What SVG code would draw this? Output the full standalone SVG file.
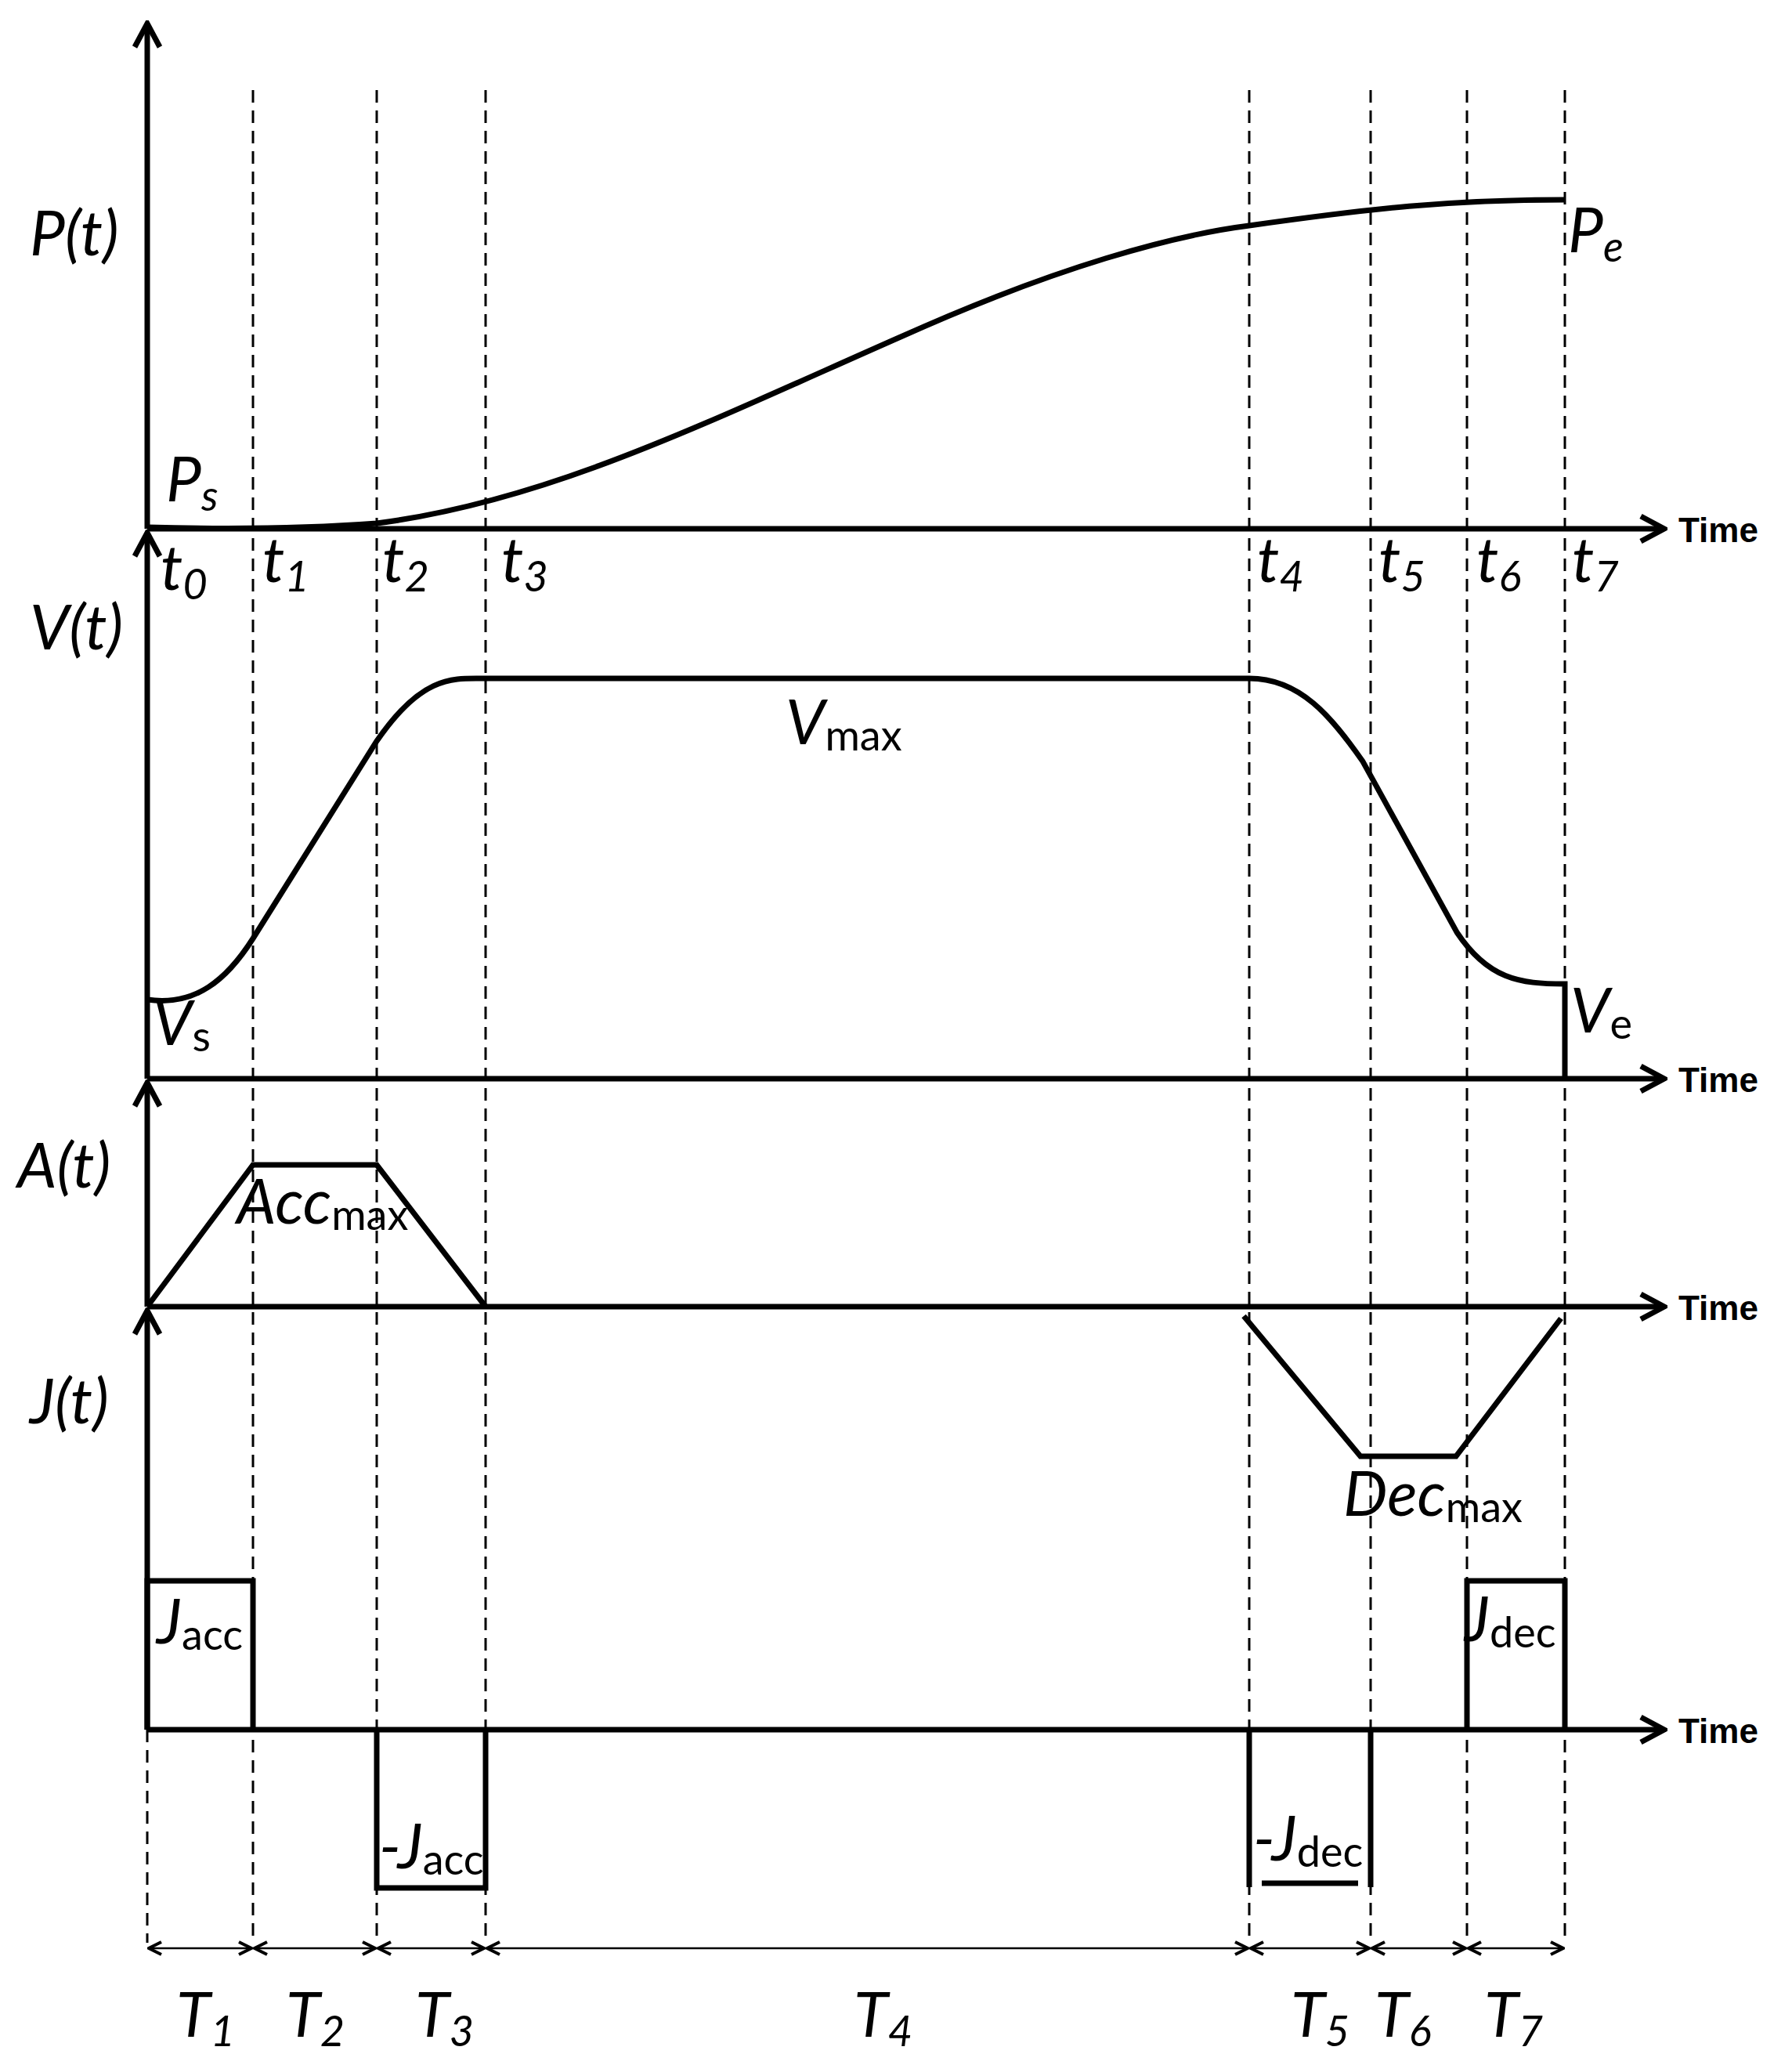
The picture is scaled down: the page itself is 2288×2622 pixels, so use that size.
<svg xmlns="http://www.w3.org/2000/svg" width="2288" height="2622" viewBox="0 0 2288 2622">
<defs>
<marker id="ah" viewBox="0 0 20 20" refX="18" refY="10" markerWidth="20" markerHeight="20" markerUnits="userSpaceOnUse" orient="auto-start-reverse"><path d="M2,2 L18,10 L2,18" fill="none" stroke="#000" stroke-width="4"/></marker>
<marker id="big" viewBox="0 0 40 40" refX="36" refY="20" markerWidth="40" markerHeight="40" markerUnits="userSpaceOnUse" orient="auto"><path d="M6,4 L36,20 L6,36" fill="none" stroke="#000" stroke-width="7"/></marker>
</defs>
<style>
.ax{stroke:#000;stroke-width:7;fill:none}
.cv{stroke:#000;stroke-width:7;fill:none}
.ds{stroke:#000;stroke-width:3;stroke-dasharray:16,10;fill:none}
.dim{stroke:#000;stroke-width:2.5;fill:none}
.lb{font-family:Lato,"Open Sans",sans-serif;font-style:italic;font-size:80px;fill:#000}
.up{font-family:Lato,"Open Sans",sans-serif;font-style:normal;font-size:54px;fill:#000}
.sb{font-size:54px}
.tm{font-family:"Liberation Sans",Arial,sans-serif;font-weight:bold;font-size:44px;fill:#000}
</style>
<rect width="2288" height="2622" fill="#fff"/>
<g id="connectors">
<g id="dashes">
<line class="ds" x1="188" y1="2208" x2="188" y2="2480"/>
<line class="ds" x1="323" y1="115" x2="323" y2="2480"/>
<line class="ds" x1="481" y1="115" x2="481" y2="2480"/>
<line class="ds" x1="620" y1="115" x2="620" y2="2480"/>
<line class="ds" x1="1595" y1="115" x2="1595" y2="2480"/>
<line class="ds" x1="1750" y1="115" x2="1750" y2="2480"/>
<line class="ds" x1="1873" y1="115" x2="1873" y2="2480"/>
<line class="ds" x1="1998" y1="115" x2="1998" y2="2480"/>
</g>
<g id="axes">
<line class="ax" x1="188" y1="675" x2="188" y2="30" marker-end="url(#big)"/>
<line class="ax" x1="188" y1="1377" x2="188" y2="680" marker-end="url(#big)"/>
<line class="ax" x1="188" y1="1668" x2="188" y2="1382" marker-end="url(#big)"/>
<line class="ax" x1="188" y1="2208" x2="188" y2="1673" marker-end="url(#big)"/>
<line class="ax" x1="188" y1="675" x2="2125" y2="675" marker-end="url(#big)"/>
<line class="ax" x1="188" y1="1377" x2="2125" y2="1377" marker-end="url(#big)"/>
<line class="ax" x1="188" y1="1668" x2="2125" y2="1668" marker-end="url(#big)"/>
<line class="ax" x1="188" y1="2208" x2="2125" y2="2208" marker-end="url(#big)"/>
</g>
<g id="curves">
<path class="cv" d="M188,673 C300,676 400,674 481,668 C700,640 900,540 1150,430 C1350,340 1500,300 1595,288 C1750,266 1850,255 1998,255"/>
<path class="cv" d="M188,1276 C250,1285 290,1250 323,1198 L481,946 C540,860 580,866 620,866 L1595,866 C1660,866 1700,915 1740,972 L1860,1190 C1900,1250 1940,1256 1998,1256 L1998,1377"/>
<path class="cv" d="M188,1668 L323,1487 L481,1487 L620,1668"/>
<path class="cv" d="M1588,1680 L1737,1859 L1859,1859 L1993,1683"/>
<path class="cv" d="M188,2208 L188,2018 L323,2018 L323,2208"/>
<path class="cv" d="M481,2208 L481,2410 L620,2410 L620,2208"/>
<path class="cv" d="M1595,2208 L1595,2409 M1750,2208 L1750,2409 M1611,2404 L1734,2404"/>
<path class="cv" d="M1873,2208 L1873,2018 L1998,2018 L1998,2208"/>
</g>
<g id="dims">
<line class="dim" x1="190" y1="2487" x2="321" y2="2487" marker-start="url(#ah)" marker-end="url(#ah)"/>
<line class="dim" x1="325" y1="2487" x2="479" y2="2487" marker-start="url(#ah)" marker-end="url(#ah)"/>
<line class="dim" x1="483" y1="2487" x2="618" y2="2487" marker-start="url(#ah)" marker-end="url(#ah)"/>
<line class="dim" x1="622" y1="2487" x2="1593" y2="2487" marker-start="url(#ah)" marker-end="url(#ah)"/>
<line class="dim" x1="1597" y1="2487" x2="1748" y2="2487" marker-start="url(#ah)" marker-end="url(#ah)"/>
<line class="dim" x1="1752" y1="2487" x2="1871" y2="2487" marker-start="url(#ah)" marker-end="url(#ah)"/>
<line class="dim" x1="1875" y1="2487" x2="1996" y2="2487" marker-start="url(#ah)" marker-end="url(#ah)"/>
</g>
</g>
<g id="labels">
<text class="lb" x="38" y="326">P(t)</text>
<text class="lb" x="38" y="829">V(t)</text>
<text class="lb" x="22" y="1516">A(t)</text>
<text class="lb" x="38" y="1817">J(t)</text>
<text class="tm" x="2143" y="692">Time</text>
<text class="tm" x="2143" y="1394">Time</text>
<text class="tm" x="2143" y="1685">Time</text>
<text class="tm" x="2143" y="2225">Time</text>
<text class="lb" x="205" y="753">t<tspan class="sb" dy="12">0</tspan></text>
<text class="lb" x="335" y="743">t<tspan class="sb" dy="12">1</tspan></text>
<text class="lb" x="488" y="743">t<tspan class="sb" dy="12">2</tspan></text>
<text class="lb" x="640" y="743">t<tspan class="sb" dy="12">3</tspan></text>
<text class="lb" x="1605" y="743">t<tspan class="sb" dy="12">4</tspan></text>
<text class="lb" x="1760" y="743">t<tspan class="sb" dy="12">5</tspan></text>
<text class="lb" x="1885" y="743">t<tspan class="sb" dy="12">6</tspan></text>
<text class="lb" x="2007" y="743">t<tspan class="sb" dy="12">7</tspan></text>
<text class="lb" x="212" y="640">P<tspan class="sb" dy="12">s</tspan></text>
<text class="lb" x="2002" y="322">P<tspan class="sb" dy="12">e</tspan></text>
<text class="lb" x="1003" y="950">V<tspan class="up" dy="8">max</tspan></text>
<text class="lb" x="195" y="1334">V<tspan class="up" dy="8">s</tspan></text>
<text class="lb" x="2005" y="1318">V<tspan class="up" dy="8">e</tspan></text>
<text class="lb" x="302" y="1562">Acc<tspan class="up" dy="8">max</tspan></text>
<text class="lb" x="1715" y="1935">Dec<tspan class="up" dy="8">max</tspan></text>
<text class="lb" x="200" y="2098">J<tspan class="up" dy="8">acc</tspan></text>
<text class="lb" x="484" y="2385">-J<tspan class="up" dy="8">acc</tspan></text>
<text class="lb" x="1600" y="2375">-J<tspan class="up" dy="8">dec</tspan></text>
<text class="lb" x="1870" y="2095">J<tspan class="up" dy="8">dec</tspan></text>
<text class="lb" x="225" y="2600">T<tspan class="sb" dy="12">1</tspan></text>
<text class="lb" x="365" y="2600">T<tspan class="sb" dy="12">2</tspan></text>
<text class="lb" x="530" y="2600">T<tspan class="sb" dy="12">3</tspan></text>
<text class="lb" x="1090" y="2600">T<tspan class="sb" dy="12">4</tspan></text>
<text class="lb" x="1648" y="2600">T<tspan class="sb" dy="12">5</tspan></text>
<text class="lb" x="1755" y="2600">T<tspan class="sb" dy="12">6</tspan></text>
<text class="lb" x="1895" y="2600">T<tspan class="sb" dy="12">7</tspan></text>
</g>
</svg>
